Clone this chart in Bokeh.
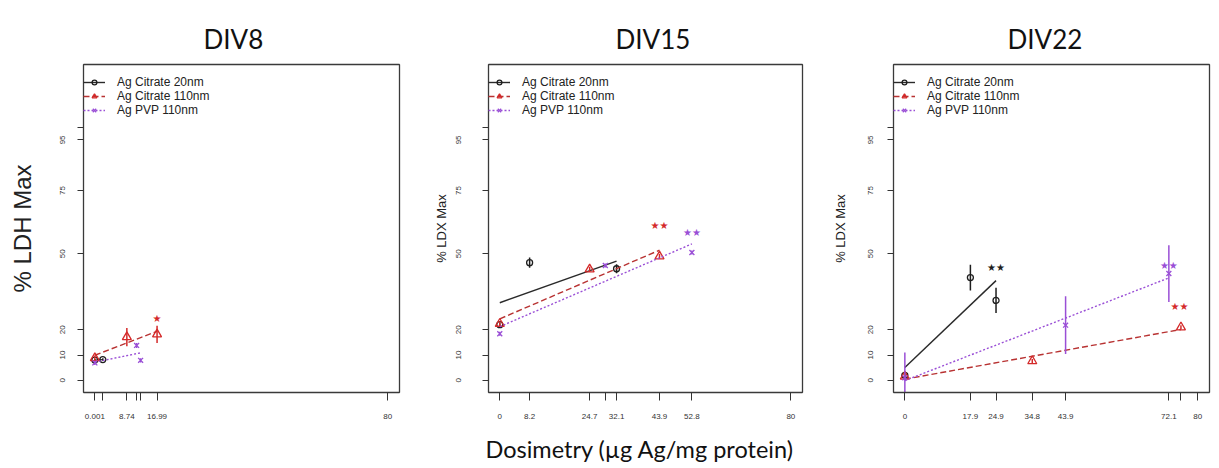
import numpy as np
from bokeh.plotting import figure
from bokeh.layouts import row
from bokeh.models import (Range1d, FixedTicker, Legend, LegendItem, Title,
                          ColumnDataSource, LinearAxis)
from bokeh.core.properties import value
from bokeh.embed import file_html
from bokeh.resources import INLINE

# ---------------- data ----------------
panel_titles = ["DIV8", "DIV15", "DIV22"]
series_names = ["Ag Citrate 20nm", "Ag Citrate 110nm", "Ag PVP 110nm"]
y_ticks = [0, 10, 20, 50, 75, 95, 100]
y_tick_labels = ["0", "10", "20", "50", "75", "95", ""]

# DIV8
div8_cit20_x = [0.001, 2.18]
div8_cit20_y = [8.0, 8.2]
div8_cit20_err = [0.4, 0.5]
div8_cit110_x = [0.001, 8.74, 16.99]
div8_cit110_y = [8.8, 17.1, 18.2]
div8_cit110_err = [1.0, 3.6, 3.4]
div8_pvp_x = [0.001, 11.4, 12.5]
div8_pvp_y = [6.9, 13.8, 7.9]
div8_pvp_err = [0.8, 1.0, 0.8]
div8_x_ticks = [0.001, 2.18, 8.74, 11.4, 12.5, 16.99, 80]
div8_x_labels = ["0.001", "", "8.74", "", "", "16.99", "80"]
div8_sig_x = [16.99]
div8_sig_y = [24.4]
div8_sig_text = ["★"]
div8_sig_series = [1]

# DIV15
div15_cit20_x = [0, 8.2, 32.1]
div15_cit20_y = [22.0, 46.5, 44.1]
div15_cit20_err = [0.8, 2.0, 1.8]
div15_cit110_x = [0, 24.7, 43.9]
div15_cit110_y = [22.4, 43.9, 49.0]
div15_cit110_err = [1.0, 1.0, 1.0]
div15_pvp_x = [0, 29.0, 52.8]
div15_pvp_y = [18.4, 45.4, 50.5]
div15_pvp_err = [0.8, 0.8, 0.8]
div15_x_ticks = [0, 8.2, 24.7, 29.0, 32.1, 43.9, 52.8, 80]
div15_x_labels = ["0", "8.2", "24.7", "", "32.1", "43.9", "52.8", "80"]
div15_sig_x = [43.9, 52.8]
div15_sig_y = [61.0, 58.4]
div15_sig_text = ["★★", "★★"]
div15_sig_series = [1, 2]

# DIV22
div22_cit20_x = [0, 17.9, 24.9]
div22_cit20_y = [2.0, 40.6, 31.6]
div22_cit20_err = [1.0, 5.1, 5.0]
div22_cit110_x = [0, 34.8, 75.4]
div22_cit110_y = [1.5, 7.6, 21.0]
div22_cit110_err = [0.8, 0.8, 0.8]
div22_pvp_x = [0, 43.9, 72.1]
div22_pvp_y = [1.0, 21.8, 42.2]
div22_pvp_err = [10.0, 11.4, 11.2]
div22_x_ticks = [0, 17.9, 24.9, 34.8, 43.9, 72.1, 75.4, 80]
div22_x_labels = ["0", "17.9", "24.9", "34.8", "43.9", "72.1", "", "80"]
div22_sig_x = [24.9, 75.0, 72.1]
div22_sig_y = [44.5, 29.2, 45.2]
div22_sig_text = ["★★", "★★", "★★"]
div22_sig_series = [0, 1, 2]

# ---------------- styles ----------------
COLORS = ["#1e1e1e", "#d42a2a", "#9a4fd6"]
LINE_COLORS = ["#2a2a2a", "#b83232", "#9a4fd6"]
DASHES = ["solid", "6 3", "2 2"]
MARKERS = ["circle", "triangle", "x"]
MSIZES = [6, 9, 7]
FRAME_COLOR = "#3a3a3a"

FONT_SANS = "Liberation Sans"
FONT_TITLE = "Lato"


def box_axis():
    return LinearAxis(ticker=FixedTicker(ticks=[]),
                      axis_line_color=FRAME_COLOR, axis_line_width=1.3,
                      major_tick_line_color=None, minor_tick_line_color=None,
                      major_label_text_font_size="0px",
                      major_label_standoff=0)


def build(idx, series, x_ticks, x_labels, sig, ylabel, ylabel_size,
          frame_w, b_left, b_right, tick_standoff, ylab_standoff, title_offset):
    p = figure(frame_width=frame_w, frame_height=328,
               min_border_left=b_left, min_border_right=b_right,
               min_border_top=64, min_border_bottom=76,
               x_range=Range1d(-3.1, 83.2), y_range=Range1d(-4.8, 124.8),
               output_backend="svg", toolbar_location=None,
               background_fill_color="white", border_fill_color="white")
    p.xgrid.visible = False
    p.ygrid.visible = False
    p.outline_line_color = FRAME_COLOR
    xa = p.below[0]
    ya = p.left[0]
    p.add_layout(box_axis(), "right")
    p.add_layout(box_axis(), "above")

    p.title.text = panel_titles[idx]
    p.title.align = "left"
    p.title.text_font = FONT_TITLE
    p.title.text_font_size = "26px"
    p.title.text_font_style = "normal"
    p.title.text_color = "#111111"
    p.title.offset = title_offset
    p.title.standoff = 20

    # axes
    xa.ticker = FixedTicker(ticks=x_ticks)
    xa.major_label_overrides = {t: l for t, l in zip(x_ticks, x_labels)}
    ya.ticker = FixedTicker(ticks=y_ticks)
    ya.major_label_overrides = {t: l for t, l in zip(y_ticks, y_tick_labels)}
    ya.major_label_orientation = "vertical"
    for ax in (xa, ya):
        ax.axis_line_color = FRAME_COLOR
        ax.axis_line_width = 1.3
        ax.major_tick_in = 0
        ax.minor_tick_line_color = None
        ax.major_tick_line_color = "#333333"
        ax.major_label_text_font = FONT_SANS
        ax.major_label_text_font_size = "8px"
        ax.major_label_text_color = "#333333"
    xa.major_tick_out = 8
    xa.major_label_standoff = 13
    ya.major_tick_out = 6
    ya.major_label_standoff = tick_standoff
    ya.axis_label = ylabel
    ya.axis_label_text_font = FONT_SANS
    ya.axis_label_text_font_size = ylabel_size
    ya.axis_label_text_font_style = "normal"
    ya.axis_label_text_color = "#222222"
    ya.axis_label_standoff = ylab_standoff

    items = []
    for s, (xs, ys, es) in enumerate(series):
        xs = np.asarray(xs, float)
        ys = np.asarray(ys, float)
        es = np.asarray(es, float)
        # regression line over the series' dose range
        slope, icpt = np.polyfit(xs, ys, 1)
        fx = np.array([xs.min(), xs.max()])
        lr = p.line(fx, icpt + slope * fx, line_color=LINE_COLORS[s],
                    line_width=1.4, line_dash=DASHES[s])
        p.segment(x0=xs, y0=ys - es, x1=xs, y1=ys + es,
                  line_color=COLORS[s], line_width=1.5)
        sr = p.scatter(xs, ys, marker=MARKERS[s], size=MSIZES[s],
                       fill_color=None, line_color=COLORS[s], line_width=1.3)
        items.append(LegendItem(label=series_names[s], renderers=[lr, sr]))

    sx, sy, st, ss = sig
    src = ColumnDataSource(dict(x=sx, y=sy, t=st,
                                c=[COLORS[k] for k in ss]))
    p.text(x="x", y="y", text="t", text_color="c", source=src,
           text_font=value("DejaVu Sans"), text_font_size="10px",
           text_align="center", text_baseline="middle")

    lg = Legend(items=items, location=(0, 275), padding=2, margin=0,
                spacing=0, glyph_width=22, glyph_height=12, label_height=12,
                label_standoff=12, background_fill_alpha=0,
                border_line_color=None,
                label_text_font=FONT_SANS, label_text_font_size="12px",
                label_text_color="#222222")
    p.add_layout(lg)
    return p


p1 = build(0,
           [(div8_cit20_x, div8_cit20_y, div8_cit20_err),
            (div8_cit110_x, div8_cit110_y, div8_cit110_err),
            (div8_pvp_x, div8_pvp_y, div8_pvp_err)],
           div8_x_ticks, div8_x_labels,
           (div8_sig_x, div8_sig_y, div8_sig_text, div8_sig_series),
           "% LDH Max", "24px", 316, 83, 21, 12, 22, 120)
p2 = build(1,
           [(div15_cit20_x, div15_cit20_y, div15_cit20_err),
            (div15_cit110_x, div15_cit110_y, div15_cit110_err),
            (div15_pvp_x, div15_pvp_y, div15_pvp_err)],
           div15_x_ticks, div15_x_labels,
           (div15_sig_x, div15_sig_y, div15_sig_text, div15_sig_series),
           "% LDX Max", "13px", 314, 68, 18, 21, 5, 127)
p3 = build(2,
           [(div22_cit20_x, div22_cit20_y, div22_cit20_err),
            (div22_cit110_x, div22_cit110_y, div22_cit110_err),
            (div22_pvp_x, div22_pvp_y, div22_pvp_err)],
           div22_x_ticks, div22_x_labels,
           (div22_sig_x, div22_sig_y, div22_sig_text, div22_sig_series),
           "% LDX Max", "13px", 316, 73, 10, 14, 18, 114)

xlab = Title(text="Dosimetry (µg Ag/mg protein)", align="left",
             text_font=FONT_TITLE, text_font_size="23.5px",
             text_font_style="normal", text_color="#111111",
             offset=-3, standoff=22)
p2.add_layout(xlab, "below")

layout = row(p1, p2, p3, spacing=0)
open("out.html", "w").write(file_html(layout, INLINE))
